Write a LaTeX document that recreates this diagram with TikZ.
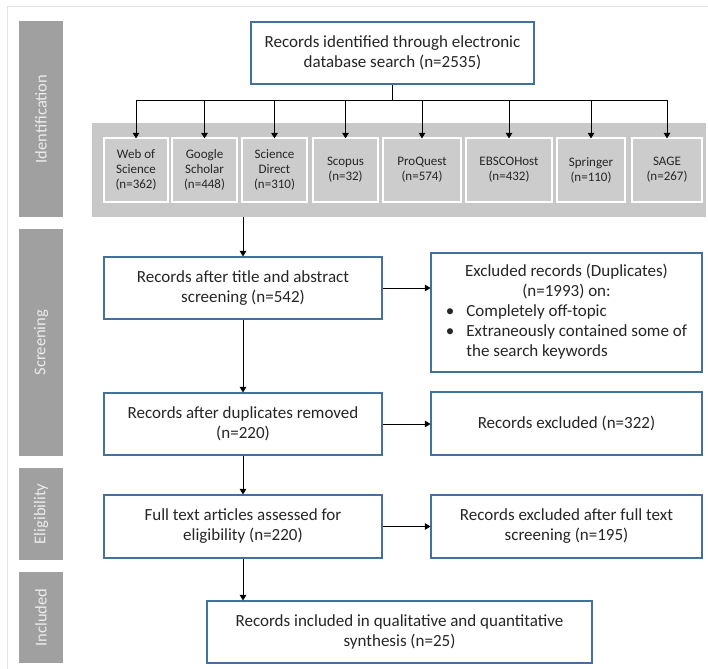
\documentclass[tikz,border=0pt]{standalone}
\usepackage{fontspec}
\setmainfont{Carlito}
\usetikzlibrary{arrows.meta}
\definecolor{boxblue}{RGB}{65,113,156}
\definecolor{sidegray}{RGB}{160,160,160}
\definecolor{bandgray}{RGB}{200,200,200}
\definecolor{dbgray}{RGB}{204,204,204}
\definecolor{txt}{RGB}{38,38,38}
\definecolor{framegray}{RGB}{228,228,228}
\definecolor{sidetxt}{RGB}{236,236,236}
\begin{document}
\begin{tikzpicture}[x=1pt,y=-1pt,
  box/.style={draw=boxblue, line width=1.1pt, fill=white, text=txt, align=center,
    font=\fontsize{17}{20}\selectfont, inner sep=0pt},
  dbbox/.style={draw=white, line width=1.2pt, fill=dbgray, text=txt, align=center,
    font=\fontsize{13}{15}\selectfont, inner sep=0pt, minimum height=64pt},
  side/.style={fill=sidegray, text=sidetxt, font=\fontsize{16.5}{20}\selectfont,
    rotate=90, minimum height=44pt, inner sep=0pt},
  arr/.style={line width=0.9pt, -{Triangle[length=5.5pt,width=6.5pt]}},
  ln/.style={line width=0.9pt}]
\useasboundingbox (0,0) rectangle (708,668);
\draw[framegray, line width=1pt] (7,7) rectangle (715,675);

% side labels
\node[side, minimum width=196pt] (sid) at (41,119) {Identification};
\node[side, minimum width=227pt] (ssc) at (41,342.5) {Screening};
\node[side, minimum width=92pt] (sel) at (41,514) {Eligibility};
\node[side, minimum width=91pt] (sin) at (41,617.5) {Included};

% band
\node[fill=bandgray, minimum width=614pt, minimum height=94pt, inner sep=0pt] (band) at (399,170) {};

% top box
\node[box, minimum width=283pt, minimum height=62pt] (top) at (392.5,53)
  {Records identified through electronic\\database search (n=2535)};

% database boxes
\node[dbbox, minimum width=64pt] (d1) at (136,170) {Web of\\Science\\(n=362)};
\node[dbbox, minimum width=65pt] (d2) at (204.5,170) {Google\\Scholar\\(n=448)};
\node[dbbox, minimum width=65pt] (d3) at (274.5,170) {Science\\Direct\\(n=310)};
\node[dbbox, minimum width=65pt] (d4) at (345.5,170) {Scopus\\(n=32)};
\node[dbbox, minimum width=78pt] (d5) at (422,170) {ProQuest\\(n=574)};
\node[dbbox, minimum width=86pt] (d6) at (509,170) {EBSCOHost\\(n=432)};
\node[dbbox, minimum width=68pt] (d7) at (591,170) {Springer\\(n=110)};
\node[dbbox, minimum width=70pt] (d8) at (667,170) {SAGE\\(n=267)};

\coordinate (bus) at (392.5,100);
\draw[ln] (top.south) -- (bus);
\draw[ln] (d1.north |- bus) -- (d8.north |- bus);
\foreach \i in {1,...,8} {
  \draw[arr] (d\i.north |- bus) -- ([yshift=-1pt]d\i.north);
}

% main flow
\node[box, minimum width=278pt, minimum height=62pt] (s1) at (243,288)
  {Records after title and abstract\\screening (n=542)};
\node[box, minimum width=271pt, minimum height=119pt] (exc) at (566.5,312.5)
  {\begin{tabular}{@{}l@{\hspace{12pt}}l@{}}
   \multicolumn{2}{@{}c@{}}{Excluded records (Duplicates)}\\
   \multicolumn{2}{@{}c@{}}{(n=1993) on:}\\
   • & Completely off-topic\\
   • & Extraneously contained some of\\
     & the search keywords
   \end{tabular}};
\node[box, minimum width=278pt, minimum height=62pt] (s2) at (243,424)
  {Records after duplicates removed\\(n=220)};
\node[box, minimum width=271pt, minimum height=63pt] (exc2) at (566.5,423.5)
  {Records excluded (n=322)};
\node[box, minimum width=278pt, minimum height=63pt] (e1) at (243,526.5)
  {Full text articles assessed for\\eligibility (n=220)};
\node[box, minimum width=271pt, minimum height=63pt] (exc3) at (566.5,526.5)
  {Records excluded after full text\\screening (n=195)};
\node[box, minimum width=385pt, minimum height=62pt] (inc) at (399.5,632)
  {Records included in qualitative and quantitative\\synthesis (n=25)};

\draw[arr] (s1.north |- band.south) -- (s1.north);
\draw[arr] (s1.south) -- (s2.north);
\draw[arr] (s2.south) -- (e1.north);
\draw[arr] (e1.south) -- (e1.south |- inc.north);
\draw[arr] (s1.east) -- (s1.east -| exc.west);
\draw[arr] (s2.east) -- (s2.east -| exc2.west);
\draw[arr] (e1.east) -- (e1.east -| exc3.west);
\end{tikzpicture}
\end{document}
